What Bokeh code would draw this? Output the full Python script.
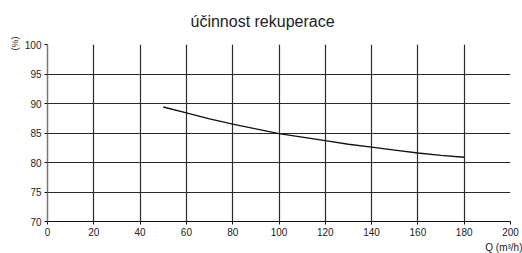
from bokeh.plotting import figure
from bokeh.models import Title, Range1d, FixedTicker
from bokeh.embed import file_html
from bokeh.resources import INLINE

title_text = "účinnost rekuperace"
y_label = "(%)"
x_label = "Q (m³/h)"
flow = [50, 60, 70, 80, 90, 100, 110, 120, 130, 140, 150, 160, 170, 180]
efficiency = [89.4, 88.4, 87.4, 86.5, 85.7, 84.9, 84.3, 83.7, 83.1, 82.6, 82.1, 81.6, 81.2, 80.9]
x_ticks = [0, 20, 40, 60, 80, 100, 120, 140, 160, 180, 200]
y_ticks = [70, 75, 80, 85, 90, 95, 100]

FONT = "Liberation Sans"
TXT = "#222222"

p = figure(width=522, height=253,
           output_backend="svg", toolbar_location=None,
           x_range=Range1d(0, 200), y_range=Range1d(70, 100),
           min_border_left=47, min_border_right=12, min_border_top=44, min_border_bottom=32)
p.outline_line_color = None
p.background_fill_color = "white"
p.border_fill_color = "white"

p.line(flow, efficiency, line_color="#111111", line_width=1.4)

for ax in (p.xaxis[0], p.yaxis[0]):
    ax.major_label_text_font = FONT
    ax.major_label_text_font_size = "10px"
    ax.major_label_text_color = TXT
    ax.minor_tick_line_color = None
    ax.major_tick_in = 0
    ax.major_tick_out = 3
    ax.major_tick_line_color = "#111111"
    ax.major_label_standoff = 3
p.xaxis.ticker = FixedTicker(ticks=x_ticks)
p.yaxis.ticker = FixedTicker(ticks=y_ticks)
p.xaxis.axis_line_color = "#111111"
p.yaxis.axis_line_color = "#777777"
p.yaxis.axis_line_width = 1.5

p.xgrid.ticker = FixedTicker(ticks=x_ticks)
p.ygrid.ticker = FixedTicker(ticks=y_ticks)
p.grid.grid_line_color = "#2a2a2a"
p.grid.grid_line_width = 1.2
p.grid.grid_line_alpha = 1.0

p.add_layout(Title(text=title_text, align="left", offset=143, standoff=25,
                   vertical_align="top",
                   text_font=FONT, text_font_size="16px", text_font_style="normal",
                   text_color=TXT), "above")
p.add_layout(Title(text=y_label, align="right", offset=-8, standoff=3,
                   text_font=FONT, text_font_size="9px", text_font_style="normal",
                   text_color=TXT), "left")
p.add_layout(Title(text=x_label, align="right", offset=-12, standoff=2,
                   text_font=FONT, text_font_size="10px", text_font_style="normal",
                   text_color=TXT), "below")

open("out.html", "w").write(file_html(p, INLINE))
